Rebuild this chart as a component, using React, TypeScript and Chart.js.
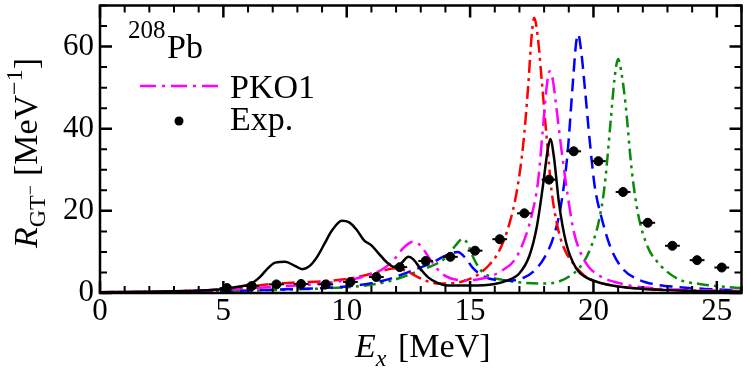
import React, { useEffect, useRef } from "react";
import { Chart, registerables } from "chart.js";

Chart.register(...registerables);

// ---- Data ----
const E_BLACK = [0, 2, 3, 4, 5, 5.6, 6.1, 6.5, 6.8, 7.1, 7.5, 7.9, 8.2, 8.5, 8.8, 9.1, 9.4, 9.8, 10.1, 10.4, 10.7, 11.0, 11.3, 11.6, 11.9, 12.2, 12.5, 12.7, 13.0, 13.3, 13.7, 14.1, 15.0, 16.0, 16.5, 17.0, 17.4, 17.7, 17.95, 18.15, 18.25, 18.4, 18.6, 18.9, 19.3, 19.7, 20.2, 21, 22, 23, 24, 26];
const R_BLACK = [0.2, 0.3, 0.4, 0.6, 1.0, 1.5, 2.2, 4.0, 6.0, 7.4, 7.6, 6.6, 5.8, 6.6, 8.8, 12.0, 15.2, 17.6, 17.2, 15.4, 12.8, 11.6, 9.6, 7.6, 6.4, 7.2, 8.8, 8.2, 5.8, 3.8, 2.4, 1.8, 1.8, 2.2, 3.0, 4.8, 9.0, 16, 26, 35, 37.5, 33, 22, 12, 6, 3.8, 2.6, 1.6, 1.0, 0.7, 0.5, 0.3];

const E_RED = [0, 3, 5, 6, 7, 8, 9, 10, 10.8, 11.5, 12.0, 12.4, 12.9, 13.4, 13.8, 14.3, 14.8, 15.3, 15.8, 16.2, 16.6, 16.9, 17.15, 17.35, 17.5, 17.6, 17.75, 17.9, 18.1, 18.3, 18.55, 18.8, 19.2, 19.6, 20.0, 20.6, 21.5, 22.5, 24, 26];
const R_RED = [0.2, 0.4, 0.9, 1.5, 2.2, 2.6, 2.8, 3.4, 4.4, 5.5, 6.0, 5.4, 3.8, 2.6, 2.3, 2.4, 3.0, 4.4, 7.0, 10.5, 17, 25, 36, 50, 63, 67, 62, 52, 38, 25, 16, 11, 7, 4.4, 3.0, 2.0, 1.3, 0.9, 0.6, 0.4];

const E_PKO1 = [0, 3, 5, 6, 7, 8, 9, 10, 10.8, 11.4, 11.9, 12.3, 12.7, 13.0, 13.4, 13.8, 14.2, 14.8, 15.3, 15.8, 16.3, 16.8, 17.2, 17.5, 17.75, 17.95, 18.1, 18.22, 18.35, 18.5, 18.7, 18.95, 19.2, 19.5, 19.8, 20.3, 20.8, 21.5, 22.5, 24, 26];
const R_PKO1 = [0.2, 0.4, 0.8, 1.1, 1.5, 1.8, 2.3, 3.1, 4.2, 5.6, 8.0, 11.0, 12.5, 11.5, 8.0, 5.0, 3.6, 3.1, 3.3, 4.0, 5.5, 8.0, 13, 19, 27, 40, 50, 54, 52, 45, 35, 24, 15, 9.5, 6.4, 4.0, 2.8, 1.8, 1.1, 0.7, 0.5];

const E_BLUE = [0, 3, 5, 6, 7, 8, 9, 10, 11, 11.6, 12.2, 12.8, 13.4, 13.9, 14.3, 14.5, 14.8, 15.1, 15.5, 16.0, 16.6, 17.2, 17.6, 18.0, 18.4, 18.7, 18.95, 19.15, 19.3, 19.38, 19.5, 19.65, 19.85, 20.05, 20.3, 20.7, 21.2, 21.9, 22.5, 23.3, 24.5, 26];
const R_BLUE = [0.1, 0.3, 0.5, 0.6, 0.8, 1.0, 1.2, 1.6, 2.4, 3.2, 4.4, 5.8, 7.2, 8.8, 9.8, 10, 8.6, 6.2, 4.2, 3.2, 3.0, 3.8, 5.4, 8.5, 14, 22, 34, 50, 61, 63, 59, 50, 37, 26, 19, 11, 5.8, 3.1, 2.1, 1.5, 1.0, 0.6];

const E_GREEN = [0, 3, 5, 7, 8, 9, 10, 11, 11.8, 12.5, 13.0, 13.6, 14.0, 14.4, 14.7, 14.9, 15.1, 15.4, 15.8, 16.3, 17, 18, 18.6, 19.2, 19.6, 19.9, 20.2, 20.45, 20.7, 20.85, 21.0, 21.15, 21.3, 21.55, 21.8, 22.2, 22.6, 22.9, 23.5, 24.3, 25.3, 26];
const R_GREEN = [0.1, 0.3, 0.5, 0.7, 0.9, 1.1, 1.4, 2.0, 3.0, 4.4, 5.6, 7.0, 8.5, 11.5, 13.2, 12.0, 9.0, 5.8, 4.0, 3.2, 2.6, 2.3, 2.8, 4.8, 7.5, 11.2, 17, 26, 42, 52, 57, 53, 46, 30, 19.5, 11.2, 7.5, 5.6, 3.2, 2.2, 1.5, 1.2];

const E_EXP = [5.15, 6.15, 7.15, 8.15, 9.15, 10.15, 11.2, 12.15, 13.2, 14.2, 15.2, 16.2, 17.2, 18.2, 19.2, 20.2, 21.2, 22.2, 23.2, 24.2, 25.2];
const R_EXP = [1.2, 1.7, 2.1, 2.2, 2.1, 2.7, 3.9, 6.3, 7.8, 8.8, 10.3, 13.1, 19.4, 27.6, 34.5, 32.1, 24.6, 17.1, 11.5, 8.0, 6.2];
const XERR_EXP = [0.3, 0.3, 0.3, 0.3, 0.3, 0.3, 0.3, 0.3, 0.3, 0.3, 0.3, 0.3, 0.3, 0.3, 0.3, 0.3, 0.3, 0.3, 0.3, 0.3, 0.3];

const X_TICKS = [0, 5, 10, 15, 20, 25];
const Y_TICKS = [0, 20, 40, 60];

const SERIF = '"Liberation Serif", "Times New Roman", serif';

const pts = (xs: number[], ys: number[]) => xs.map((x, i) => ({ x, y: ys[i] }));

function txt(ctx: CanvasRenderingContext2D, s: string, x: number, y: number, size: number, italic = false) {
  ctx.font = `${italic ? "italic " : ""}${size}px ${SERIF}`;
  ctx.fillText(s, x, y);
  return ctx.measureText(s).width;
}

const decorPlugin = {
  id: "decor",
  afterDatasetsDraw(chart: any) {
    const ctx = chart.ctx as CanvasRenderingContext2D;
    const xs = chart.scales.x;
    const ys = chart.scales.y;
    ctx.save();
    ctx.strokeStyle = "#000";
    ctx.lineWidth = 2;
    E_EXP.forEach((e, i) => {
      const y = ys.getPixelForValue(R_EXP[i]);
      ctx.beginPath();
      ctx.moveTo(xs.getPixelForValue(e - XERR_EXP[i]), y);
      ctx.lineTo(xs.getPixelForValue(e + XERR_EXP[i]), y);
      ctx.stroke();
    });
    ctx.restore();
  },
  afterDraw(chart: any) {
    const ctx = chart.ctx as CanvasRenderingContext2D;
    const { left, right, top, bottom } = chart.chartArea;
    const xs = chart.scales.x;
    const ys = chart.scales.y;
    ctx.save();
    ctx.strokeStyle = "#000";
    ctx.fillStyle = "#000";
    // ticks
    const major = 12, minor = 7;
    for (let v = 0; v <= 26; v += 1) {
      const px = xs.getPixelForValue(v);
      const len = v % 5 === 0 ? major : minor;
      ctx.lineWidth = v % 5 === 0 ? 2.5 : 2;
      ctx.beginPath();
      ctx.moveTo(px, bottom);
      ctx.lineTo(px, bottom - len);
      ctx.moveTo(px, top);
      ctx.lineTo(px, top + len);
      ctx.stroke();
    }
    for (let v = 0; v <= 70; v += 5) {
      const py = ys.getPixelForValue(v);
      const len = v % 20 === 0 ? major : minor;
      ctx.lineWidth = v % 20 === 0 ? 2.5 : 2;
      ctx.beginPath();
      ctx.moveTo(left, py);
      ctx.lineTo(left + len, py);
      ctx.moveTo(right, py);
      ctx.lineTo(right - len, py);
      ctx.stroke();
    }
    // frame
    ctx.lineWidth = 2.5;
    ctx.strokeRect(left, top, right - left, bottom - top);

    // texts
    ctx.textBaseline = "alphabetic";
    ctx.textAlign = "left";
    // 208Pb
    txt(ctx, "208", 128, 38, 25);
    txt(ctx, "Pb", 167, 58, 34);
    // legend
    ctx.save();
    ctx.strokeStyle = "#ff00ff";
    ctx.lineWidth = 2.5;
    ctx.setLineDash([16, 6, 3, 6]);
    ctx.beginPath();
    ctx.moveTo(140, 86);
    ctx.lineTo(218, 86);
    ctx.stroke();
    ctx.restore();
    txt(ctx, "PKO1", 230, 98, 34);
    ctx.beginPath();
    ctx.arc(179, 121, 4.5, 0, Math.PI * 2);
    ctx.fill();
    txt(ctx, "Exp.", 230, 130, 34);

    // x title
    let x = 355;
    x += txt(ctx, "E", x, 357, 34, true);
    txt(ctx, "x", x, 366, 24, true);
    txt(ctx, "[MeV]", 398, 357, 34);

    // y title
    ctx.save();
    ctx.translate(37, 248);
    ctx.rotate(-Math.PI / 2);
    let t = 0;
    t += txt(ctx, "R", t, 0, 34, true);
    t += txt(ctx, "GT", t, 8, 24);
    t += txt(ctx, "\u2212", t, -1, 18);
    t += 9;
    t += txt(ctx, "[MeV", t, 0, 34);
    t += txt(ctx, "\u22121", t, -15, 24);
    txt(ctx, "]", t, 0, 34);
    ctx.restore();

    ctx.restore();
  },
};

export default function App() {
  const ref = useRef<HTMLCanvasElement>(null);
  useEffect(() => {
    if (!ref.current) return;
    const line = (label: string, xs: number[], ys: number[], color: string, dash: number[], order: number) => ({
      type: "line" as const,
      label,
      data: pts(xs, ys),
      borderColor: color,
      backgroundColor: color,
      borderWidth: 2.5,
      borderDash: dash,
      pointRadius: 0,
      fill: false,
      cubicInterpolationMode: "monotone" as const,
      order,
    });
    const chart = new Chart(ref.current, {
      type: "line",
      data: {
        datasets: [
          {
            type: "scatter",
            label: "Exp.",
            data: pts(E_EXP, R_EXP),
            backgroundColor: "#000",
            borderColor: "#000",
            pointRadius: 4.5,
            pointHoverRadius: 4.5,
            showLine: false,
            order: 0,
          } as any,
          line("solid", E_BLACK, R_BLACK, "#000000", [], 1),
          line("PKO1", E_PKO1, R_PKO1, "#ff00ff", [16, 6, 3, 6], 2),
          line("red", E_RED, R_RED, "#ff0000", [13, 5, 3, 5], 3),
          line("blue", E_BLUE, R_BLUE, "#0000ff", [13, 7], 4),
          line("green", E_GREEN, R_GREEN, "#0a8a0a", [12, 5, 3, 5, 3, 5], 5),
        ],
      },
      options: {
        animation: false,
        responsive: false,
        maintainAspectRatio: false,
        events: [],
        layout: { padding: { top: 3, right: 5, bottom: 0, left: 0 } },
        plugins: { legend: { display: false }, tooltip: { enabled: false }, title: { display: false } },
        scales: {
          x: {
            type: "linear",
            min: 0,
            max: 26,
            grid: { display: false, drawTicks: false },
            border: { display: false },
            afterBuildTicks: (s: any) => {
              s.ticks = X_TICKS.map((v) => ({ value: v }));
            },
            afterFit: (s: any) => {
              s.height = 77;
              s.paddingLeft = 0;
              s.paddingRight = 0;
            },
            ticks: {
              autoSkip: false,
              maxRotation: 0,
              padding: 0,
              color: "#000",
              font: { family: SERIF, size: 31 },
            },
          },
          y: {
            type: "linear",
            min: 0,
            max: 70,
            grid: { display: false, drawTicks: false },
            border: { display: false },
            afterBuildTicks: (s: any) => {
              s.ticks = Y_TICKS.map((v) => ({ value: v }));
            },
            afterFit: (s: any) => {
              s.width = 100;
              s.paddingTop = 0;
              s.paddingBottom = 0;
            },
            ticks: {
              autoSkip: false,
              padding: 6,
              color: "#000",
              font: { family: SERIF, size: 31 },
            },
          },
        },
      },
      plugins: [decorPlugin],
    });
    return () => chart.destroy();
  }, []);
  return (
    <div style={{ position: "absolute", left: 0, top: 0, width: 747, height: 370, background: "#fff" }}>
      <canvas ref={ref} width={747} height={370} style={{ width: 747, height: 370, display: "block" }} />
    </div>
  );
}
